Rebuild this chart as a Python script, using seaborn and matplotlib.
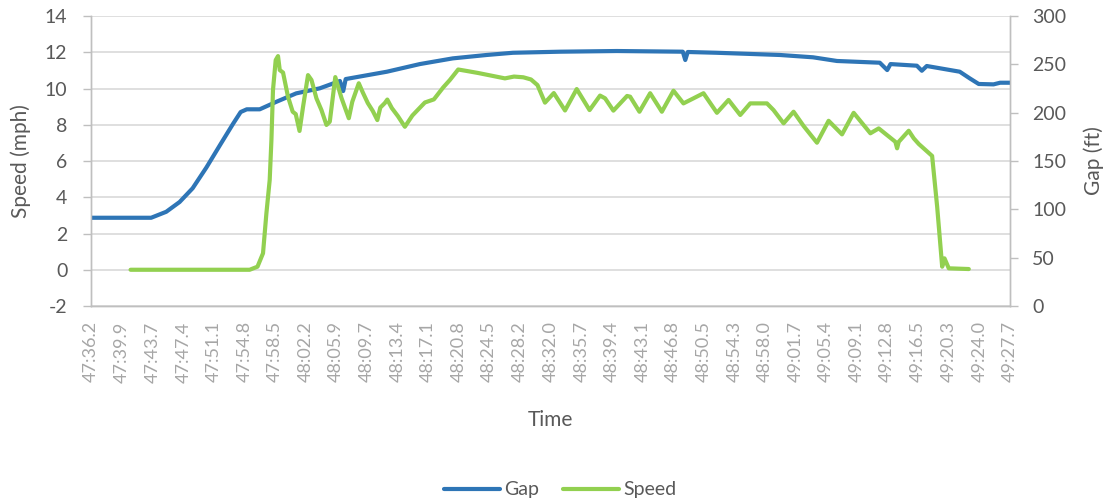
import pandas as pd
import matplotlib
matplotlib.use('Agg')
import matplotlib.pyplot as plt
import seaborn as sns

##### Data ####################################################################

# Clock labels shown on the category axis
tick_labels = ['47:36.2', '47:39.9', '47:43.7', '47:47.4', '47:51.1', '47:54.8',
               '47:58.5', '48:02.2', '48:05.9', '48:09.7', '48:13.4', '48:17.1',
               '48:20.8', '48:24.5', '48:28.2', '48:32.0', '48:35.7', '48:39.4',
               '48:43.1', '48:46.8', '48:50.5', '48:54.3', '48:58.0', '49:01.7',
               '49:05.4', '49:09.1', '49:12.8', '49:16.5', '49:20.3', '49:24.0',
               '49:27.7']

# Gap (ft), seconds after 47:36.2
gap_time = [0.0, 7.3, 9.13, 10.75, 12.33, 14.0, 15.73, 17.22, 18.16, 18.9, 20.47,
            22.5, 24.9, 27.75, 30.2, 30.6, 30.9, 35.9, 39.9, 43.9, 48.0, 51.2,
            56.9, 63.8, 71.8, 72.1, 72.4, 75.9, 83.6, 87.6, 90.5, 95.7, 96.6,
            97.0, 100.2, 100.8, 101.4, 105.4, 106.6, 107.7, 109.5, 110.3, 111.5]
gap_ft = [91.3, 91.3, 97.5, 107.6, 121.8, 143.3, 167.6, 188.3, 200.7, 203.5, 203.5,
          211.3, 220.0, 225.2, 232.8, 222.4, 234.8, 242.4, 250.3, 256.2, 259.7, 262.0,
          263.1, 263.8, 263.1, 254.5, 262.8, 262.0, 259.7, 257.3, 253.5, 251.7, 244.1,
          250.3, 248.6, 243.4, 248.3, 242.4, 235.6, 229.7, 229.3, 231.0, 231.0]

# Speed (mph), seconds after 47:36.2
speed_time = [4.8, 19.25, 20.2, 20.87, 21.28, 21.68, 21.89, 22.08, 22.41, 22.69,
              22.9, 23.3, 23.9, 24.47, 24.84, 25.3, 25.73, 26.33, 26.75, 27.35,
              27.96, 28.57, 28.97, 29.64, 30.39, 31.28, 31.7, 32.49, 32.98, 33.58,
              34.19, 34.74, 35.1, 35.65, 35.95, 36.5, 37.23, 38.08, 38.99, 40.51,
              41.6, 42.73, 43.54, 44.55, 45.57, 46.94, 48.8, 50.22, 51.32, 52.45,
              53.38, 54.17, 55.08, 56.15, 57.51, 58.93, 60.49, 61.76, 62.37, 63.38,
              65.04, 65.41, 66.54, 67.84, 69.26, 70.67, 71.88, 73.1, 74.31, 75.94,
              77.35, 78.77, 79.98, 82.01, 82.81, 84.03, 85.24, 86.46, 88.08, 89.49,
              91.12, 92.53, 94.56, 95.57, 97.59, 97.8, 98.0, 99.21, 99.82, 100.43,
              102.05, 102.66, 103.27, 103.55, 104.07, 106.5]
speed_mph = [0.0, 0.0, 0.17, 0.91, 3.11, 4.95, 7.16, 9.92, 11.57, 11.79,
             11.02, 10.88, 9.55, 8.72, 8.59, 7.66, 9.0, 10.74, 10.47, 9.46,
             8.81, 7.99, 8.17, 10.63, 9.48, 8.36, 9.27, 10.29, 9.78, 9.2,
             8.76, 8.26, 8.95, 9.2, 9.39, 8.92, 8.48, 7.89, 8.51, 9.23,
             9.4, 10.06, 10.47, 11.05, 10.97, 10.86, 10.69, 10.56, 10.66, 10.62,
             10.5, 10.19, 9.22, 9.75, 8.79, 9.97, 8.81, 9.61, 9.46, 8.78,
             9.59, 9.55, 8.72, 9.74, 8.72, 9.88, 9.18, 9.46, 9.74, 8.66,
             9.37, 8.54, 9.18, 9.18, 8.81, 8.08, 8.72, 7.93, 7.01, 8.22,
             7.47, 8.66, 7.53, 7.8, 7.06, 6.7, 7.06, 7.67, 7.25, 6.94,
             6.28, 3.48, 0.17, 0.63, 0.08, 0.04]

gap_df = pd.DataFrame({'Elapsed': gap_time, 'Gap': gap_ft})
speed_df = pd.DataFrame({'Elapsed': speed_time, 'Speed': speed_mph})

def clock_seconds(label):
    m, s = label.split(':')
    return int(m) * 60 + float(s)

tick_pos = [clock_seconds(t) - clock_seconds(tick_labels[0]) for t in tick_labels]

##### Plot ####################################################################

sns.set_style('white')
plt.rcParams['font.family'] = ['Lato', 'DejaVu Sans']
plt.rcParams['axes.unicode_minus'] = False

grid_c = '#d9d9d9'
axis_c = '#bfbfbf'
text_c = '#595959'

fig = plt.figure(figsize=(11.03, 5.01), dpi=100)
ax = fig.add_axes([0.0825, 0.3892, 0.8332, 0.5788])
ax2 = ax.twinx()   # gap, right axis
ax3 = ax.twinx()   # speed line, drawn on top, shares left scale

sns.lineplot(data=gap_df, x='Elapsed', y='Gap', ax=ax2, color='#2e75b6',
             linewidth=3, estimator=None, label='Gap')
sns.lineplot(data=speed_df, x='Elapsed', y='Speed', ax=ax3, color='#92d050',
             linewidth=3, estimator=None, label='Speed')

# left axis (speed)
ax.set_ylim(-2, 14)
ax.set_yticks(range(-2, 15, 2))
ax.yaxis.grid(True, color=grid_c, linewidth=1.2)
ax.set_xlim(tick_pos[0], tick_pos[-1])
ax.set_xticks(tick_pos)
ax.set_xticklabels(tick_labels, rotation=90, color='#a6a6a6', fontsize=13)
ax.tick_params(axis='x', length=0, pad=11)
ax.tick_params(axis='y', left=True, length=6, width=1, color=axis_c,
               labelcolor=text_c, labelsize=14, pad=11)
ax.set_ylabel('Speed (mph)', color=text_c, fontsize=15, labelpad=10)
ax.set_xlabel('Time', color=text_c, fontsize=15, labelpad=20)

# right axis (gap)
ax2.set_ylim(0, 300)
ax2.set_yticks(range(0, 301, 50))
ax2.tick_params(axis='y', right=True, length=6, width=1, color=axis_c,
                labelcolor=text_c, labelsize=14, pad=10)
ax2.set_ylabel('Gap (ft)', color=text_c, fontsize=15, labelpad=12)
ax2.grid(False)

# overlay axes for speed
ax3.set_ylim(-2, 14)
ax3.set_xlim(tick_pos[0], tick_pos[-1])
ax3.axis('off')

for a in (ax, ax2):
    a.spines['top'].set_visible(False)
    for side in ('left', 'right', 'bottom'):
        a.spines[side].set_color(axis_c)
        a.spines[side].set_linewidth(1)
ax2.set_xlabel('')

handles = ax2.get_legend().legend_handles + ax3.get_legend().legend_handles
ax2.get_legend().remove()
ax3.get_legend().remove()
fig.legend(handles, ['Gap', 'Speed'], loc='center', ncol=2, frameon=False,
           bbox_to_anchor=(560 / 1103, 1 - 490 / 501), fontsize=14,
           handlelength=2.9, handletextpad=0.2, columnspacing=1.2,
           labelcolor=text_c)

fig.savefig('out.png', dpi=100)
